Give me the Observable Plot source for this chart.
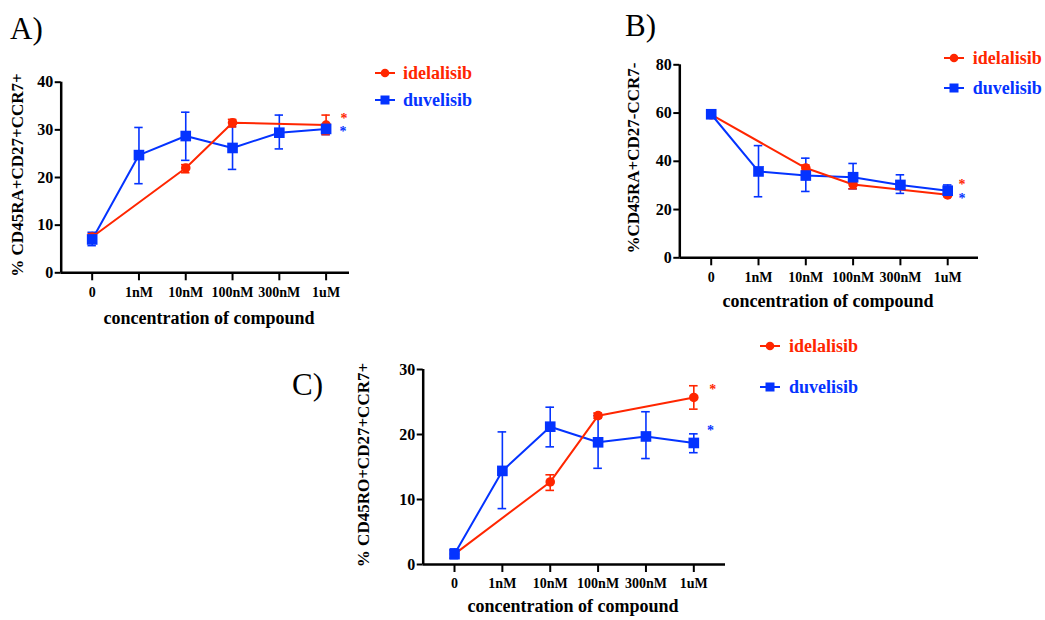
<!DOCTYPE html>
<html><head><meta charset="utf-8">
<script src="https://cdn.jsdelivr.net/npm/d3@7"></script>
<script src="https://cdn.jsdelivr.net/npm/@observablehq/plot@0.6"></script>
<style>
body{margin:0;background:#fff}
#c{position:relative;width:1045px;height:620px;overflow:hidden;background:#fff}
.t{position:absolute;white-space:nowrap;line-height:1;color:#000}
</style></head><body><div id="c"></div><script>
// ---------- data ----------
const concentrations = ["0", "1nM", "10nM", "100nM", "300nM", "1uM"];
const seriesNames = ["idelalisib", "duvelisib"];
const xTitle = "concentration of compound";

// Panel A: % CD45RA+CD27+CCR7+
const aIdela   = [7.5, null, 22.0, 31.5, null, 31.0];
const aIdelaLo = [6.8, null, 21.0, 30.6, null, 29.0];
const aIdelaHi = [8.2, null, 22.7, 32.2, null, 33.1];
const aDuve    = [7.0, 24.7, 28.7, 26.2, 29.4, 30.2];
const aDuveLo  = [5.7, 18.7, 23.6, 21.7, 26.0, 29.0];
const aDuveHi  = [8.5, 30.5, 33.7, 30.7, 33.1, 31.0];
const aTicks   = [0, 10, 20, 30, 40];

// Panel B: % CD45RA+CD27-CCR7-
const bIdela   = [59.3, null, 37.2, 30.4, null, 26.1];
const bIdelaLo = [58.0, null, 36.0, 28.6, null, 25.3];
const bIdelaHi = [60.5, null, 38.5, 31.6, null, 27.0];
const bDuve    = [59.5, 35.8, 34.1, 33.4, 30.2, 27.8];
const bDuveLo  = [58.0, 25.3, 27.5, 28.6, 26.7, 25.8];
const bDuveHi  = [61.3, 46.5, 41.3, 39.1, 34.4, 30.2];
const bTicks   = [0, 20, 40, 60, 80];

// Panel C: % CD45RO+CD27+CCR7+
const cIdela   = [1.6, null, 12.7, 22.9, null, 25.7];
const cIdelaLo = [1.0, null, 11.4, 22.5, null, 23.9];
const cIdelaHi = [2.2, null, 13.8, 23.3, null, 27.5];
const cDuve    = [1.6, 14.4, 21.2, 18.8, 19.7, 18.7];
const cDuveLo  = [0.9, 8.6, 18.1, 14.8, 16.3, 17.2];
const cDuveHi  = [2.4, 20.4, 24.2, 22.9, 23.5, 20.1];
const cTicks   = [0, 10, 20, 30];

const significance = "*";

// ---------- drawing ----------
const RED = "#FF2600", BLUE = "#0433FF";
const FONT = "\"Liberation Serif\", serif";
const root = document.getElementById("c");
root.style.fontFamily = FONT;

function rows(v, lo, hi) {
  return concentrations.map((c, i) => ({i, c, v: v[i], lo: lo[i], hi: hi[i]})).filter(d => d.v != null);
}

function panel(cfg) {
  const R = rows(cfg.red, cfg.redLo, cfg.redHi);
  const B = rows(cfg.blue, cfg.blueLo, cfg.blueHi);
  const cap = 0.09;
  const err = (data, color) => [
    Plot.ruleX(data, {x: "i", y1: "lo", y2: "hi", stroke: color, strokeWidth: 1.6}),
    Plot.ruleY(data, {y: "lo", x1: d => d.i - cap, x2: d => d.i + cap, stroke: color, strokeWidth: 1.6}),
    Plot.ruleY(data, {y: "hi", x1: d => d.i - cap, x2: d => d.i + cap, stroke: color, strokeWidth: 1.6})
  ];
  const lastR = R[R.length - 1], lastB = B[B.length - 1];
  const svg = Plot.plot({
    width: cfg.w, height: cfg.h,
    marginLeft: cfg.ml, marginTop: cfg.mt, marginBottom: cfg.mb, marginRight: cfg.mr,
    x: {type: "linear", domain: cfg.xd, axis: null},
    y: {domain: [0, cfg.ticks[cfg.ticks.length - 1]], axis: null},
    style: {fontFamily: FONT, fontWeight: "bold", fontSize: "14px", color: "#000", background: "transparent", overflow: "visible"},
    marks: [
      Plot.axisY({ticks: cfg.ticks, tickSize: 6, tickPadding: 2, strokeWidth: 2, label: null, fontSize: 16, fontFamily: FONT, fontWeight: "bold"}),
      Plot.axisX({ticks: d3.range(concentrations.length), tickFormat: i => concentrations[i], tickSize: 8, tickPadding: 6, strokeWidth: 2, label: null, fontSize: 14, fontFamily: FONT, fontWeight: "bold"}),
      ...err(B, BLUE),
      Plot.line(B, {x: "i", y: "v", stroke: BLUE, strokeWidth: 2}),
      ...err(R, RED),
      Plot.line(R, {x: "i", y: "v", stroke: RED, strokeWidth: 2}),
      Plot.dot(R, {x: "i", y: "v", r: 4.8, fill: RED, stroke: "none"}),
      Plot.dot(B, {x: "i", y: "v", r: 6, symbol: "square", fill: BLUE, stroke: "none"}),
      Plot.ruleY([0], {strokeWidth: 2.5}),
      Plot.ruleX([cfg.xd[0]], {strokeWidth: 2.5}),
      Plot.text([lastR], {x: "i", y: "v", text: () => significance, fill: RED, fontSize: 14, fontFamily: FONT, fontWeight: "bold", dx: cfg.st[0], dy: cfg.st[1]}),
      Plot.text([lastB], {x: "i", y: "v", text: () => significance, fill: BLUE, fontSize: 14, fontFamily: FONT, fontWeight: "bold", dx: cfg.st[2], dy: cfg.st[3]})
    ]
  });
  svg.style.position = "absolute";
  svg.style.left = cfg.left + "px";
  svg.style.top = cfg.top + "px";
  root.appendChild(svg);
}

function text(str, x, y, size, opts = {}) {
  const d = document.createElement("div");
  d.className = "t";
  d.textContent = str;
  d.style.fontFamily = FONT;
  d.style.fontWeight = opts.bold ? "bold" : "normal";
  d.style.fontSize = size + "px";
  d.style.left = x + "px";
  d.style.top = y + "px";
  if (opts.color) d.style.color = opts.color;
  let tr = opts.center ? "translate(-50%,-50%)" : "translateY(-50%)";
  if (opts.rotate) tr += " rotate(-90deg)";
  if (opts.noShift) tr = "";
  d.style.transform = tr;
  root.appendChild(d);
}

function legend(cx, y1, y2, tx) {
  [[y1, RED, "circle", seriesNames[0]], [y2, BLUE, "square", seriesNames[1]]].forEach(([y, col, sym, name]) => {
    const s = document.createElementNS("http://www.w3.org/2000/svg", "svg");
    s.setAttribute("width", 24); s.setAttribute("height", 14);
    s.style.position = "absolute"; s.style.left = (cx - 12) + "px"; s.style.top = (y - 7) + "px";
    s.innerHTML = `<line x1="2" x2="22" y1="7" y2="7" stroke="${col}" stroke-width="2"/>` +
      (sym === "circle" ? `<circle cx="12" cy="7" r="4.3" fill="${col}"/>` : `<rect x="7.5" y="2.5" width="9" height="9" fill="${col}"/>`);
    root.appendChild(s);
    text(name, tx, y, 18, {bold: true, color: col});
  });
}

// Panel A
panel({red: aIdela, redLo: aIdelaLo, redHi: aIdelaHi, blue: aDuve, blueLo: aDuveLo, blueHi: aDuveHi, ticks: aTicks,
  left: 0, top: 40, w: 360, h: 280, ml: 60.7, mt: 41.7, mb: 47.7, mr: 11, xd: [-0.662, 5.50], st: [18, -6.9, 17, 3.0]});
// Panel B
panel({red: bIdela, redLo: bIdelaLo, redHi: bIdelaHi, blue: bDuve, blueLo: bDuveLo, blueHi: bDuveHi, ticks: bTicks,
  left: 620, top: 40, w: 370, h: 260, ml: 59.3, mt: 24.3, mb: 42.7, mr: 12, xd: [-0.664, 5.651], st: [14.4, -10.6, 14.4, 7.9]});
// Panel C
panel({red: cIdela, redLo: cIdelaLo, redHi: cIdelaHi, blue: cDuve, blueLo: cDuveLo, blueHi: cDuveHi, ticks: cTicks,
  left: 380, top: 350, w: 360, h: 260, ml: 42.7, mt: 19, mb: 46, mr: 15, xd: [-0.654, 5.662], st: [19, -7.7, 16.7, -12.8]});

// panel letters
text("A)", 10, 13, 31, {noShift: true});
text("B)", 625, 10, 31, {noShift: true});
text("C)", 292, 369, 31, {noShift: true});

// axis titles
text(xTitle, 209, 318, 18, {bold: true, center: true});
text(xTitle, 828, 301.4, 18, {bold: true, center: true});
text(xTitle, 573, 606, 18, {bold: true, center: true});
text("% CD45RA+CD27+CCR7+", 17, 175, 17, {bold: true, center: true, rotate: true});
text("%CD45RA+CD27-CCR7-", 633, 158, 17, {bold: true, center: true, rotate: true});
text("% CD45RO+CD27+CCR7+", 363, 465, 17, {bold: true, center: true, rotate: true});

// legends
legend(385, 72.7, 100, 403);
legend(953.5, 58.3, 87.7, 972.7);
legend(770, 346, 387.3, 789);
</script></body></html>
